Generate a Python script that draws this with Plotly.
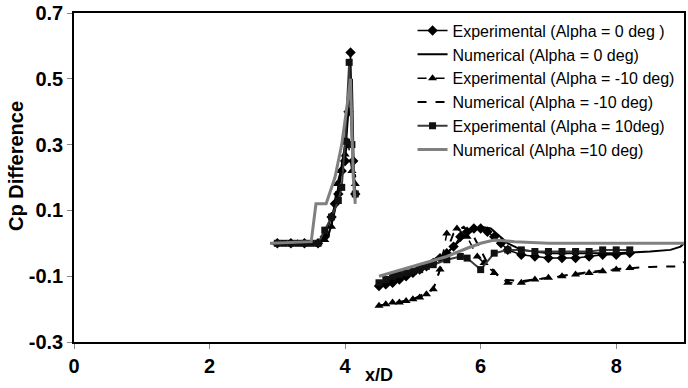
import plotly.graph_objects as go

# ---- Data ----
exp0_x = [3.0, 3.2, 3.4, 3.6, 3.7, 3.8, 3.85, 3.9, 3.95, 4.0, 4.05, 4.08, 4.12, 4.15, None,
          4.5, 4.6, 4.7, 4.8, 4.9, 5.0, 5.1, 5.2, 5.3, 5.4, 5.5, 5.6, 5.7, 5.8, 5.9, 6.0, 6.1, 6.2, 6.3, 6.4,
          6.6, 6.8, 7.0, 7.2, 7.4, 7.6, 7.8, 8.0, 8.2]
exp0_y = [0.0, 0.0, 0.0, 0.0, 0.02, 0.08, 0.12, 0.15, 0.22, 0.25, 0.40, 0.58, 0.25, 0.15, None,
          -0.13, -0.125, -0.12, -0.11, -0.10, -0.09, -0.08, -0.07, -0.06, -0.045, -0.03, -0.01, 0.02, 0.035, 0.045,
          0.045, 0.035, 0.02, 0.0, -0.02, -0.035, -0.04, -0.045, -0.045, -0.045, -0.04, -0.035, -0.035, -0.03]

num0_x = [2.9, 3.6, 3.75, 3.85, 3.92, 4.0, 4.05, 4.1, 4.13, 4.15, None,
          4.5, 5.0, 5.5, 5.8, 6.0, 6.15, 6.4, 6.6, 7.0, 7.5, 8.0, 8.5, 8.8, 8.95, 9.0]
num0_y = [0.0, 0.0, 0.02, 0.10, 0.20, 0.30, 0.42, 0.50, 0.20, 0.13, None,
          -0.125, -0.08, -0.03, 0.03, 0.05, 0.045, 0.0, -0.02, -0.03, -0.03, -0.03, -0.025, -0.02, -0.01, 0.0]

expm10_x = [3.0, 3.3, 3.6, 3.7, 3.8, 3.88, 3.93, 4.0, 4.05, 4.1, 4.15, None,
            4.5, 4.6, 4.7, 4.8, 4.9, 5.0, 5.1, 5.2, 5.3, 5.4, 5.5, 5.65, 5.8, 5.95, 6.05, 6.2, 6.4,
            6.6, 6.8, 7.0, 7.2, 7.4, 7.6, 7.8, 8.0, 8.2]
expm10_y = [0.0, 0.0, 0.0, 0.01, 0.05, 0.18, 0.22, 0.27, 0.30, 0.22, 0.18, None,
            -0.19, -0.185, -0.18, -0.18, -0.175, -0.17, -0.165, -0.155, -0.14, -0.08, 0.03, 0.045, 0.02, -0.04,
            -0.06, -0.09, -0.12, -0.12, -0.11, -0.105, -0.10, -0.095, -0.09, -0.085, -0.08, -0.075]

numm10_x = [2.9, 3.65, 3.78, 3.88, 3.98, 4.05, 4.1, 4.15, None,
            4.5, 5.0, 5.3, 5.45, 5.6, 5.75, 5.9, 6.1, 6.3, 6.6, 7.0, 7.5, 8.0, 8.5, 8.9, 9.0]
numm10_y = [0.0, 0.0, 0.03, 0.15, 0.25, 0.32, 0.28, 0.20, None,
            -0.19, -0.17, -0.14, -0.05, 0.03, 0.05, 0.02, -0.06, -0.11, -0.115, -0.105, -0.09, -0.078, -0.072,
            -0.07, -0.057]

exp10_x = [3.0, 3.1, 3.2, 3.3, 3.4, 3.5, 3.6, 3.7, 3.8, 3.9, 3.95, 4.0, 4.06, 4.1, 4.15, None,
           4.5, 4.6, 4.7, 4.8, 4.9, 5.0, 5.1, 5.2, 5.3, 5.5, 5.7, 5.8, 6.0, 6.2, 6.4, 6.6, 6.8, 7.0, 7.2,
           7.4, 7.6, 7.8, 8.0, 8.2]
exp10_y = [0.0, 0.0, 0.0, 0.0, 0.0, 0.0, 0.0, 0.04, 0.08, 0.13, 0.17, 0.31, 0.55, 0.30, 0.15, None,
           -0.12, -0.11, -0.10, -0.095, -0.09, -0.085, -0.08, -0.07, -0.065, -0.05, -0.04, -0.045, -0.08, -0.03,
           -0.02, -0.02, -0.025, -0.025, -0.025, -0.025, -0.025, -0.02, -0.02, -0.02]

num10_x = [2.9, 3.5, 3.57, 3.72, 3.85, 3.95, 4.05, 4.08, 4.12, 4.15, None,
           4.5, 5.0, 5.5, 5.8, 6.0, 6.2, 6.5, 7.0, 8.0, 9.0]
num10_y = [0.0, 0.005, 0.12, 0.12, 0.20, 0.30, 0.45, 0.50, 0.20, 0.12, None,
           -0.10, -0.07, -0.04, -0.015, 0.0, 0.01, 0.005, 0.0, 0.0, 0.0]

names = ["Experimental (Alpha = 0 deg )", "Numerical (Alpha = 0 deg)",
         "Experimental (Alpha = -10 deg)", "Numerical (Alpha = -10 deg)",
         "Experimental (Alpha = 10deg)", "Numerical (Alpha =10 deg)"]

x_ticks = [0, 2, 4, 6, 8]
y_ticks = [-0.3, -0.1, 0.1, 0.3, 0.5, 0.7]

FONT = "Liberation Sans, Arial"

fig = go.Figure()
fig.add_trace(go.Scatter(x=exp0_x, y=exp0_y, name=names[0], mode="lines+markers",
                         line=dict(color="black", width=1.5),
                         marker=dict(symbol="diamond", size=8, color="black")))
fig.add_trace(go.Scatter(x=num0_x, y=num0_y, name=names[1], mode="lines",
                         line=dict(color="black", width=2)))
fig.add_trace(go.Scatter(x=expm10_x, y=expm10_y, name=names[2], mode="lines+markers",
                         line=dict(color="black", width=1.5, dash="dash"),
                         marker=dict(symbol="triangle-up", size=8, color="black")))
fig.add_trace(go.Scatter(x=numm10_x, y=numm10_y, name=names[3], mode="lines",
                         line=dict(color="black", width=2, dash="dash")))
fig.add_trace(go.Scatter(x=exp10_x, y=exp10_y, name=names[4], mode="lines+markers",
                         line=dict(color="#3a3a3a", width=2),
                         marker=dict(symbol="square", size=7, color="#111111")))
fig.add_trace(go.Scatter(x=num10_x, y=num10_y, name=names[5], mode="lines",
                         line=dict(color="#808080", width=3)))

axis_common = dict(showline=True, linecolor="black", linewidth=1.5, mirror=True,
                   ticks="outside", ticklen=5, tickcolor="#888888", showgrid=False, zeroline=False,
                   tickfont=dict(family=FONT, size=20, color="black", weight="bold"))

fig.update_layout(
    width=688, height=388,
    margin=dict(l=74, r=2, t=13, b=46),
    paper_bgcolor="white", plot_bgcolor="white",
    font=dict(family=FONT, color="black"),
    showlegend=True,
    legend=dict(x=0.555, y=0.998, xanchor="left", yanchor="top",
                bgcolor="rgba(255,255,255,0)", borderwidth=0,
                font=dict(size=16, family=FONT, color="black"),
                tracegroupgap=0, itemwidth=30),
    xaxis=dict(range=[0, 9], tickvals=x_ticks, ticktext=[str(v) for v in x_ticks], **axis_common),
    yaxis=dict(range=[-0.3, 0.7], tickvals=y_ticks, ticktext=["%.1f" % v for v in y_ticks], **axis_common),
    annotations=[
        dict(text="x/D", xref="paper", yref="paper", x=0.5, y=0, xanchor="center", yanchor="middle",
             yshift=-33, showarrow=False, font=dict(size=18, family=FONT, weight="bold", color="black")),
        dict(text="Cp Difference", xref="paper", yref="paper", x=0, y=0.535, xanchor="center",
             yanchor="middle", xshift=-58, textangle=-90, showarrow=False,
             font=dict(size=20, family=FONT, weight="bold", color="black")),
    ],
)

fig.write_html("out.html")
